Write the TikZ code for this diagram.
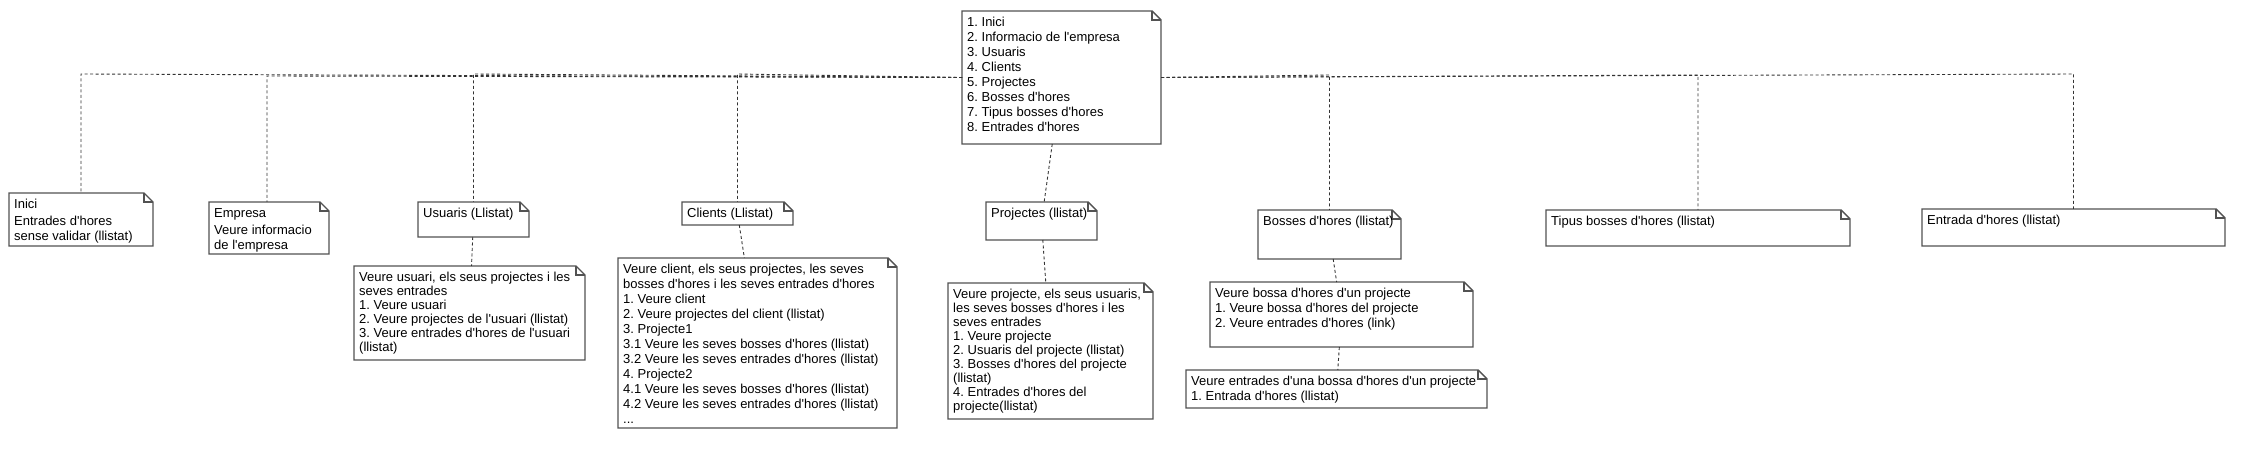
\documentclass[tikz,border=0pt]{standalone}
\usepackage{fontspec}
\setmainfont{Liberation Sans}
\frenchspacing
\newcommand\ap{\textquotesingle}
\tikzset{
  notearea/.style={inner sep=0pt, outer sep=0pt, anchor=north west},
  noteline/.style={draw=black!68, line width=1.4pt, line join=miter, fill=white},
  foldline/.style={draw=black!68, line width=1.1pt},
  notetext/.style={inner sep=0pt, anchor=north west, align=left, text=black},
  link/.style={draw=black!80, line width=0.9pt, dash pattern=on 3pt off 2.5pt},
}
\newcommand\mknote[7][15]{%
  \node[notearea, minimum width=#5pt, minimum height=#6pt] (#2) at (#3,#4) {};
  \draw[noteline] (#2.north west) -- ([xshift=-9pt]#2.north east) -- ([yshift=-9pt]#2.north east)
     -- (#2.south east) -- (#2.south west) -- cycle;
  \draw[foldline] ([xshift=-9pt]#2.north east) |- ([yshift=-9pt]#2.north east);
  \node[notetext, font=\fontsize{13}{#1}\selectfont\frenchspacing] (#2t) at ([xshift=5pt,yshift=-5pt]#2.north west) {\rule{0pt}{10pt}#7};
}
\begin{document}
\begin{tikzpicture}[x=1pt,y=-1pt]
\useasboundingbox (0,0) rectangle (2266,470);
\fill[white] (0,0) rectangle (2266,470);

\mknote{main}{962}{11}{199}{133}{1. Inici\\2. Informacio de l\ap empresa\\3. Usuaris\\4. Clients\\5. Projectes\\6. Bosses d\ap hores\\7. Tipus bosses d\ap hores\\8. Entrades d\ap hores}

\mknote{inici}{9}{193}{144}{53}{Inici\\[2pt]Entrades d\ap hores\\sense validar (llistat)}
\mknote{empresa}{209}{202}{120}{52}{Empresa\\[2pt]Veure informacio\\de l\ap empresa}
\mknote{usuaris}{418}{202}{111}{35}{Usuaris (Llistat)}
\mknote[14]{vusuari}{354}{266}{231}{94}{Veure usuari, els seus projectes i les\\seves entrades\\1. Veure usuari\\2. Veure projectes de l\ap usuari (llistat)\\3. Veure entrades d\ap hores de l\ap usuari\\(llistat)}
\mknote{clients}{682}{202}{111}{23}{Clients (Llistat)}
\mknote{vclient}{618}{258}{279}{170}{Veure client, els seus projectes, les seves\\bosses d\ap hores i les seves entrades d\ap hores\\1. Veure client\\2. Veure projectes del client (llistat)\\3. Projecte1\\3.1 Veure les seves bosses d\ap hores (llistat)\\3.2 Veure les seves entrades d\ap hores (llistat)\\4. Projecte2\\4.1 Veure les seves bosses d\ap hores (llistat)\\4.2 Veure les seves entrades d\ap hores (llistat)\\...}
\mknote{projectes}{986}{202}{111}{38}{Projectes (llistat)}
\mknote[14]{vprojecte}{948}{283}{205}{136}{Veure projecte, els seus usuaris,\\les seves bosses d\ap hores i les\\seves entrades\\1. Veure projecte\\2. Usuaris del projecte (llistat)\\3. Bosses d\ap hores del projecte\\(llistat)\\4. Entrades d\ap hores del\\projecte(llistat)}
\mknote{bosses}{1258}{210}{143}{49}{Bosses d\ap hores (llistat)}
\mknote{vbossa}{1210}{282}{263}{65}{Veure bossa d\ap hores d\ap un projecte\\1. Veure bossa d\ap hores del projecte\\2. Veure entrades d\ap hores (link)}
\mknote{ventrades}{1186}{370}{301}{38}{Veure entrades d\ap una bossa d\ap hores d\ap un projecte\\1. Entrada d\ap hores (llistat)}
\mknote{tipus}{1546}{210}{304}{36}{Tipus bosses d\ap hores (llistat)}
\mknote{entrada}{1922}{209}{303}{37}{Entrada d\ap hores (llistat)}

% connectors from the menu note
\draw[link] (main.west) -- (inici.north |- 0,74) -- (inici.north);
\draw[link] (main.west) -- ([xshift=-2pt]empresa.north |- 0,76) -- ([xshift=-2pt]empresa.north);
\draw[link] (main.west) -- (usuaris.north |- 0,74) -- (usuaris.north);
\draw[link] (main.west) -- (clients.north |- 0,74) -- (clients.north);
\draw[link] (main.east) -- (bosses.north |- 0,75) -- (bosses.north);
\draw[link] (main.east) -- (tipus.north |- 0,75) -- (tipus.north);
\draw[link] (main.east) -- (entrada.north |- 0,74) -- (entrada.north);
\draw[link] (main) -- (projectes);

% detail connectors
\draw[link] (usuaris) -- (vusuari);
\draw[link] (clients) -- (vclient);
\draw[link] (projectes) -- (vprojecte);
\draw[link] (bosses) -- (vbossa);
\draw[link] (vbossa) -- (ventrades);
\end{tikzpicture}
\end{document}
